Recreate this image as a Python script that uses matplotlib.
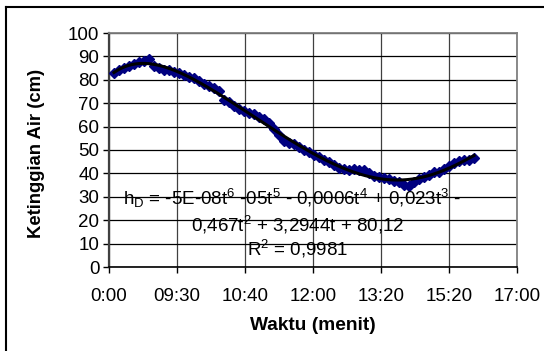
import numpy as np
import matplotlib
matplotlib.use("Agg")
import matplotlib.pyplot as plt
from matplotlib.lines import Line2D

# ---- data ----
waktu_index = list(range(1, 74))
tinggi_air = [
    83.0, 84.3, 85.2, 86.0, 86.8, 87.5, 88.2, 89.0, 85.8, 85.0,
    84.2, 84.0, 83.5, 82.8, 82.0, 81.3, 80.6, 79.3, 78.0, 77.2,
    76.5, 75.2, 71.2, 70.4, 69.0, 67.6, 66.8, 66.0, 65.2, 64.3,
    63.2, 61.5, 59.0, 56.5, 54.0, 53.2, 52.5, 51.2, 50.2, 49.0,
    48.0, 46.8, 45.7, 44.9, 43.8, 42.5, 41.7, 41.5, 41.8, 41.6,
    41.5, 40.2, 39.0, 38.6, 38.0, 37.4, 36.7, 36.2, 35.0, 34.8,
    36.3, 37.6, 38.3, 39.2, 40.5, 40.8, 41.8, 43.0, 44.5, 45.3,
    45.7, 45.9, 46.4,
]
x_tick_labels = ["0:00", "09:30", "10:40", "12:00", "13:20", "15:20", "17:00"]
y_ticks = list(range(0, 101, 10))
x_max = 81.6

eq_line1 = (r"h$\mathregular{_D}$ = -5E-08t$^\mathregular{6}$ -05t$^\mathregular{5}$"
            r" - 0,0006t$^\mathregular{4}$ + 0,023t$^\mathregular{3}$ -")
eq_line2 = r"0,467t$^\mathregular{2}$ + 3,2944t + 80,12"
eq_line3 = r"R$^\mathregular{2}$ = 0,9981"

plt.rcParams['font.family'] = ['Liberation Sans', 'DejaVu Sans']
plt.rcParams['mathtext.fontset'] = 'custom'
plt.rcParams['mathtext.rm'] = 'Liberation Sans'
plt.rcParams['mathtext.it'] = 'Liberation Sans'

W, H = 544, 351
fig = plt.figure(figsize=(W / 100, H / 100), dpi=100)
fig.patch.set_facecolor('white')
ax = fig.add_axes([109 / W, 1 - 267 / H, 408 / W, 234 / H])

t = np.array(waktu_index, dtype=float)
h = np.array(tinggi_air)

ax.plot(t, h, linestyle='none', marker='D', markersize=5,
        color='#000080', markeredgecolor='#000080', zorder=3)

poly = np.polynomial.Polynomial.fit(t, h, 6)
tt = np.linspace(t.min(), t.max(), 400)
ax.plot(tt, poly(tt), color='black', lw=2.2, zorder=4)

ax.set_xlim(0, x_max)
ax.set_ylim(0, 100)
ax.set_yticks(y_ticks)
ax.set_xticks(np.linspace(0, x_max, len(x_tick_labels)))
ax.set_xticklabels(x_tick_labels)

ax.grid(True, axis='y', color='black', lw=0.9, zorder=1)
ax.grid(True, axis='x', color='#404040', lw=0.9, zorder=1)
ax.set_axisbelow(True)

for s in ['top', 'right']:
    ax.spines[s].set_color('#808080')
    ax.spines[s].set_linewidth(1.3)
ax.spines['left'].set_color('#404040')
ax.spines['left'].set_linewidth(1.6)
ax.spines['bottom'].set_color('black')
ax.spines['bottom'].set_linewidth(1.2)

fs = 13.5
ax.tick_params(axis='both', direction='out', length=4, width=1, color='black',
               labelsize=fs)
ax.tick_params(axis='x', pad=11)
ax.tick_params(axis='y', pad=3)

fig.text(292 / W, 1 - 205 / H, eq_line1, ha='center', va='baseline', fontsize=fs)
fig.text(298 / W, 1 - 231 / H, eq_line2, ha='center', va='baseline', fontsize=fs)
fig.text(298 / W, 1 - 256 / H, eq_line3, ha='center', va='baseline', fontsize=fs)

fig.text(37 / W, 1 - 153 / H, "Ketinggian Air (cm)", rotation=90, ha='center',
         va='center', fontsize=13.3, fontweight='bold')
fig.text(313 / W, 1 - 325 / H, "Waktu (menit)", ha='center', va='center',
         fontsize=13.8, fontweight='bold')

# chart area border (left and top visible)
fig.add_artist(Line2D([6 / W, 6 / W], [0, 1 - 7 / H], transform=fig.transFigure,
                      color='black', lw=1.5))
fig.add_artist(Line2D([6 / W, 1], [1 - 7 / H, 1 - 7 / H], transform=fig.transFigure,
                      color='black', lw=1.5))

fig.savefig('out.png', dpi=100)
